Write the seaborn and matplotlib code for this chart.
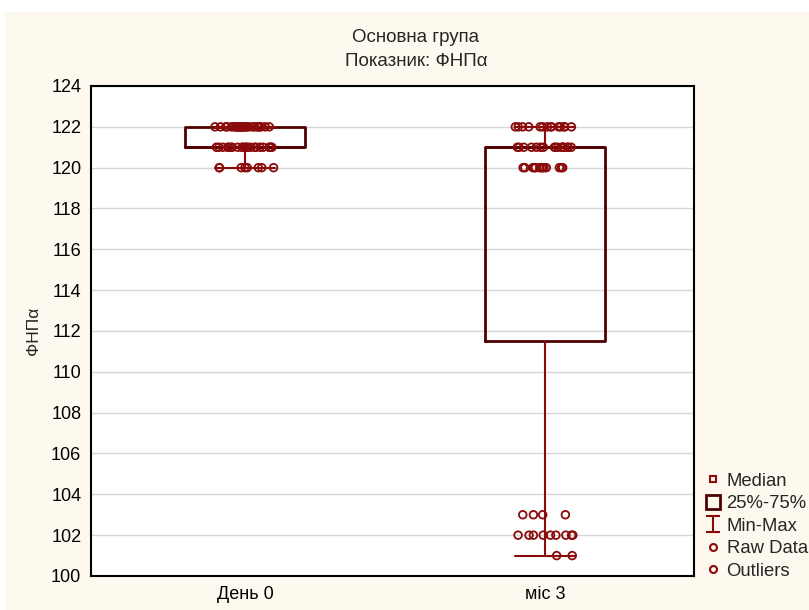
import numpy as np
import pandas as pd
import matplotlib
matplotlib.use("Agg")
import matplotlib.pyplot as plt
from matplotlib.lines import Line2D
from matplotlib.patches import Rectangle
from matplotlib.path import Path
import seaborn as sns

# Observed values and how many patients had each value
groups = ["День 0", "міс 3"]
day0_values = [120, 121, 122]
day0_counts = [8, 22, 29]
month3_values = [101, 102, 103, 120, 121, 122]
month3_counts = [2, 9, 4, 13, 17, 14]

title_main = "Основна група"
title_sub = "Показник: ФНПα"
y_label = "ФНПα"
y_ticks = [100, 102, 104, 106, 108, 110, 112, 114, 116, 118, 120, 122, 124]
legend_labels = ["Median", "25%-75%", "Min-Max", "Raw Data", "Outliers"]

df = pd.DataFrame({
    "group": [groups[0]] * sum(day0_counts) + [groups[1]] * sum(month3_counts),
    "value": np.concatenate([np.repeat(day0_values, day0_counts),
                             np.repeat(month3_values, month3_counts)]),
})

sns.set_style("white")
plt.rcParams["font.family"] = ["Liberation Sans", "DejaVu Sans"]

BOX = "#4f0000"
RED = "#8b0a0a"
CREAM = "#fdf9ef"

fig = plt.figure(figsize=(8.09, 6.10), dpi=100)
fig.patch.set_facecolor("white")
fig.add_artist(Rectangle((5 / 809, 0), 1, 1 - 12 / 610, transform=fig.transFigure,
                         facecolor=CREAM, edgecolor="none", zorder=-5))

ax = fig.add_axes([91 / 809, 34 / 610, 603 / 809, 490 / 610])
ax.set_facecolor("white")

sns.boxplot(data=df, x="group", y="value", order=groups, whis=(0, 100), width=0.4,
            fill=False, showfliers=False, color=BOX, linewidth=2,
            boxprops=dict(color=BOX, linewidth=2),
            whiskerprops=dict(color=RED, linewidth=1.5),
            capprops=dict(color=RED, linewidth=1.5),
            medianprops=dict(color=BOX, linewidth=2), ax=ax)

np.random.seed(7)
sns.stripplot(data=df, x="group", y="value", order=groups, jitter=0.1, size=5.5,
              color=RED, ax=ax, zorder=5)
for coll in ax.collections:
    coll.set_facecolor("none")
    coll.set_edgecolor(RED)
    coll.set_linewidth(1.3)

ax.set_xlim(-0.513, 1.497)
ax.set_ylim(100, 124)
ax.set_yticks(y_ticks)
ax.yaxis.grid(True, color="#d6d6d6", linewidth=1)
ax.set_axisbelow(True)
for sp in ax.spines.values():
    sp.set_color("black")
    sp.set_linewidth(1.5)
    sp.set_visible(True)
ax.tick_params(direction="in", length=3, width=1, labelsize=13, pad=7, colors="black")
ax.set_xlabel("")
ax.set_ylabel(y_label, fontsize=12.5, labelpad=7)

fig.text(416 / 809, 1 - 37 / 610, title_main, ha="center", va="center", fontsize=13.5)
fig.text(416 / 809, 1 - 62 / 610, title_sub, ha="center", va="center", fontsize=13.5)

# I-beam glyph for the Min-Max legend entry
ibeam = Path([(-0.85, 1), (0.85, 1), (0, 1), (0, -1), (-0.85, -1), (0.85, -1)],
             [Path.MOVETO, Path.LINETO, Path.MOVETO, Path.LINETO, Path.MOVETO, Path.LINETO])
handles = [
    Line2D([], [], ls="none", marker="s", ms=5, mfc="none", mec=RED, mew=1.5),
    Line2D([], [], ls="none", marker="s", ms=10.5, mfc="none", mec=BOX, mew=2),
    Line2D([], [], ls="none", marker=ibeam, ms=11.5, mfc="none", mec=RED, mew=1.5),
    Line2D([], [], ls="none", marker="o", ms=5, mfc="none", mec=RED, mew=1.5),
    Line2D([], [], ls="none", marker="o", ms=5, mfc="none", mec=RED, mew=1.5),
]
ax.legend(handles, legend_labels, loc="lower left", bbox_to_anchor=(1.0166, -0.008),
          frameon=False, fontsize=13.3, handlelength=1.0, handletextpad=0.22,
          labelspacing=0.3, borderaxespad=0, borderpad=0)

fig.savefig("out.png", dpi=100, facecolor=fig.get_facecolor())
